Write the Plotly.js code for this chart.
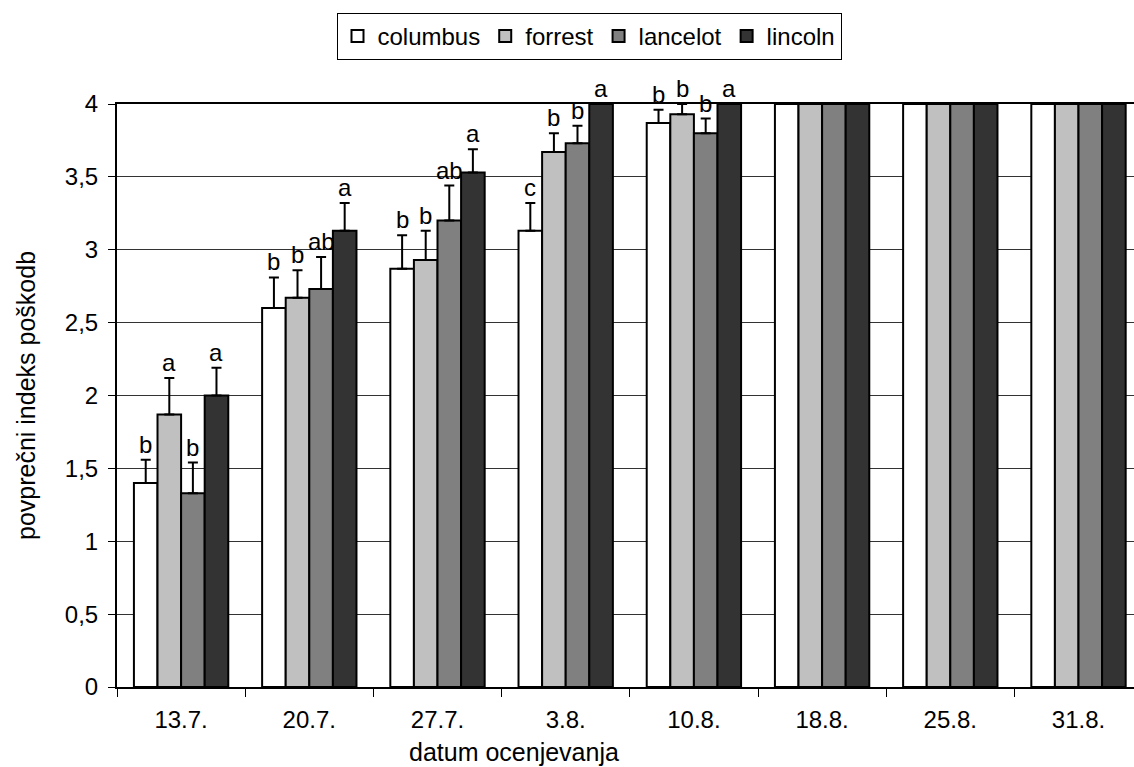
<!DOCTYPE html>
<html>
<head>
<meta charset="utf-8">
<script src="https://cdn.plot.ly/plotly-3.0.1.min.js"></script>
<style>html,body{margin:0;padding:0;background:#fff;}#chart{width:1134px;height:767px;}</style>
</head>
<body>
<div id="chart"></div>
<script>
var categories = ['13.7.', '20.7.', '27.7.', '3.8.', '10.8.', '18.8.', '25.8.', '31.8.'];
var seriesNames = ['columbus', 'forrest', 'lancelot', 'lincoln'];

var columbus = [1.40, 2.60, 2.87, 3.13, 3.87, 4, 4, 4];
var forrest  = [1.87, 2.67, 2.93, 3.67, 3.93, 4, 4, 4];
var lancelot = [1.33, 2.73, 3.20, 3.73, 3.80, 4, 4, 4];
var lincoln  = [2.00, 3.13, 3.53, 4.00, 4.00, 4, 4, 4];

var columbusErr = [0.16, 0.21, 0.23, 0.19, 0.09, null, null, null];
var forrestErr  = [0.25, 0.19, 0.20, 0.13, 0.07, null, null, null];
var lancelotErr = [0.21, 0.22, 0.24, 0.12, 0.10, null, null, null];
var lincolnErr  = [0.19, 0.19, 0.16, null, null, null, null, null];

var columbusLbl = ['b', 'b', 'b', 'c', 'b', '', '', ''];
var forrestLbl  = ['a', 'b', 'b', 'b', 'b', '', '', ''];
var lancelotLbl = ['b', 'ab', 'ab', 'b', 'b', '', '', ''];
var lincolnLbl  = ['a', 'a', 'a', 'a', 'a', '', '', ''];

var yTickVals = [0, 0.5, 1, 1.5, 2, 2.5, 3, 3.5, 4];

var colors = ['#FFFFFF', '#C0C0C0', '#808080', '#333333'];
var values = [columbus, forrest, lancelot, lincoln];
var errs = [columbusErr, forrestErr, lancelotErr, lincolnErr];
var lbls = [columbusLbl, forrestLbl, lancelotLbl, lincolnLbl];

var FONT = 'Liberation Sans, Arial, sans-serif';
var bargap = 0.264;

var traces = seriesNames.map(function (name, j) {
  return {
    type: 'bar',
    name: name,
    x: categories,
    y: values[j],
    marker: {color: colors[j], line: {color: '#000', width: 2}},
    error_y: {
      type: 'data',
      symmetric: false,
      array: errs[j],
      arrayminus: errs[j].map(function (e) { return e === null ? null : 0; }),
      color: '#000',
      thickness: 2,
      width: 5
    },
    hoverinfo: 'x+y+name'
  };
});

var barW = (1 - bargap) / seriesNames.length;
var annotations = [];
seriesNames.forEach(function (name, j) {
  categories.forEach(function (c, i) {
    var t = lbls[j][i];
    if (!t) return;
    var top = values[j][i] + (errs[j][i] || 0);
    annotations.push({
      x: i + (j - 1.5) * barW,
      y: top,
      xref: 'x', yref: 'y',
      text: t,
      showarrow: false,
      yanchor: 'bottom',
      yshift: 0,
      font: {family: FONT, size: 24, color: '#000'}
    });
  });
});

annotations.push({
  xref: 'paper', yref: 'paper',
  x: (514 - 117) / 1017, y: (687 - 752) / 583,
  yanchor: 'middle',
  text: 'datum ocenjevanja',
  showarrow: false,
  font: {family: FONT, size: 25, color: '#000'}
});

var layout = {
  width: 1134,
  height: 767,
  margin: {l: 117, r: 0, t: 104, b: 80, pad: 0},
  paper_bgcolor: '#fff',
  plot_bgcolor: '#fff',
  separators: ', ',
  barmode: 'group',
  bargap: bargap,
  bargroupgap: 0,
  font: {family: FONT, size: 24, color: '#000'},
  showlegend: true,
  legend: {
    orientation: 'h',
    x: (589 - 117) / 1017,
    xanchor: 'center',
    y: (687 - 13) / 583,
    yanchor: 'top',
    bordercolor: '#000',
    borderwidth: 1,
    bgcolor: '#fff',
    font: {family: FONT, size: 24, color: '#000'},
    itemwidth: 30,
    traceorder: 'normal'
  },
  xaxis: {
    type: 'category',
    range: [-0.5, -0.5 + 1017 / 128.2],
    tickson: 'boundaries',
    ticks: 'outside',
    ticklen: 8,
    tickwidth: 1,
    tickcolor: '#000',
    ticklabelstandoff: 10,
    showgrid: false,
    showline: true,
    linecolor: '#000',
    linewidth: 2,
    mirror: true,
    zeroline: false,
    tickfont: {family: FONT, size: 24, color: '#000'},
    fixedrange: true
  },
  yaxis: {
    range: [0, 4],
    tickvals: yTickVals,
    ticks: 'outside',
    ticklen: 7,
    tickwidth: 1,
    tickcolor: '#000',
    ticklabelstandoff: 5,
    showgrid: true,
    gridcolor: '#333',
    gridwidth: 1,
    showline: true,
    linecolor: '#000',
    linewidth: 2,
    zeroline: false,
    tickfont: {family: FONT, size: 24, color: '#000'},
    title: {text: 'povprečni indeks poškodb', font: {family: FONT, size: 25, color: '#000'}, standoff: 22},
    fixedrange: true
  },
  annotations: annotations
};

Plotly.newPlot('chart', traces, layout, {displayModeBar: false, staticPlot: true});
</script>
</body>
</html>
